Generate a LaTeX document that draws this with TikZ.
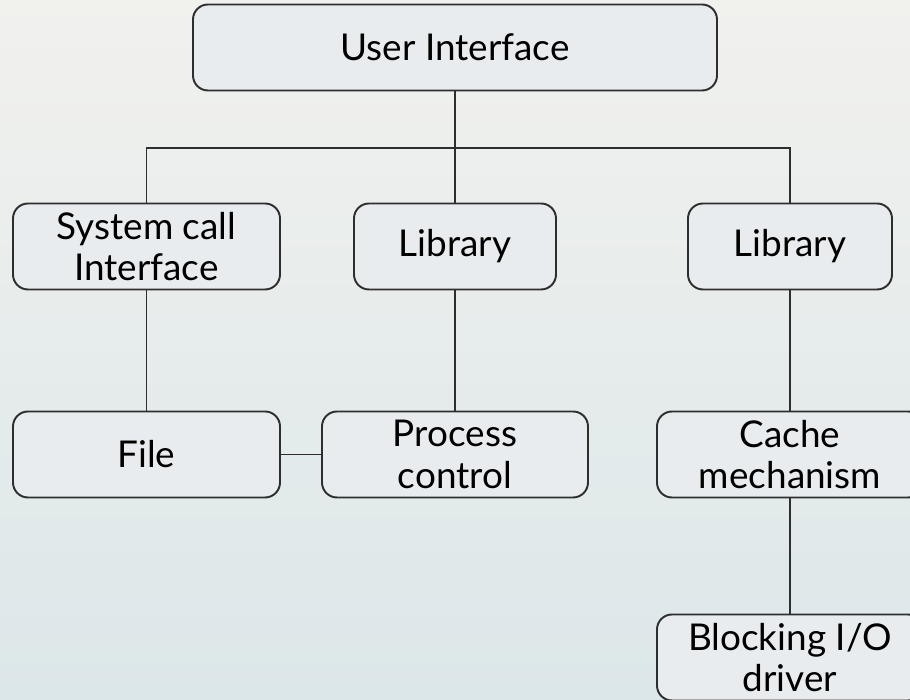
\documentclass[tikz,border=0pt]{standalone}
\usepackage{fontspec}
\setmainfont{Lato}
\definecolor{boxfill}{HTML}{E9ECEE}
\definecolor{boxline}{HTML}{2E2E2E}
\definecolor{bgtop}{HTML}{F1F1EE}
\definecolor{bgbottom}{HTML}{DCE7E9}
\tikzset{
    part/.style={draw=boxline, fill=boxfill, line width=1.1pt, rounded corners=0.3cm,
        minimum height=1.72cm, inner sep=2pt, align=center,
        font=\fontsize{21}{23.5}\selectfont},
    link/.style={draw=boxline, line width=1.1pt}
}
\begin{document}
\begin{tikzpicture}
    \shade[top color=bgtop, bottom color=bgbottom] (0,0) rectangle (18.2,14);
    \useasboundingbox (0,0) rectangle (18.2,14);
    \clip (0,0) rectangle (18.2,14);
    \node[part, minimum width=10.48cm] (ui) at (9.1,13.05) {User Interface};
    \node[part, minimum width=5.34cm] (sci) at (2.93,9.07) {System call\\Interface};
    \node[part, minimum width=4.04cm] (lib1) at (9.1,9.07) {Library};
    \node[part, minimum width=4.08cm] (lib2) at (15.8,9.07) {Library};
    \node[part, minimum width=5.34cm] (file) at (2.93,4.91) {File};
    \node[part, minimum width=5.32cm] (proc) at (9.1,4.91) {Process\\control};
    \node[part, minimum width=5.32cm] (cache) at (15.8,4.91) {Cache\\mechanism};
    \node[part, minimum width=5.32cm] (block) at (15.8,0.85) {Blocking I/O\\driver};
    \coordinate (bus) at (9.1,11.04);
    \path (ui.south) edge[link] (lib1.north);
    \draw[link] (sci.north) |- (bus) -| (lib2.north);
    \path (sci) edge[link] (file);
    \path (lib1) edge[link] (proc);
    \path (lib2) edge[link] (cache);
    \path (file) edge[link] (proc);
    \path (cache) edge[link] (block);
\end{tikzpicture}
\end{document}
